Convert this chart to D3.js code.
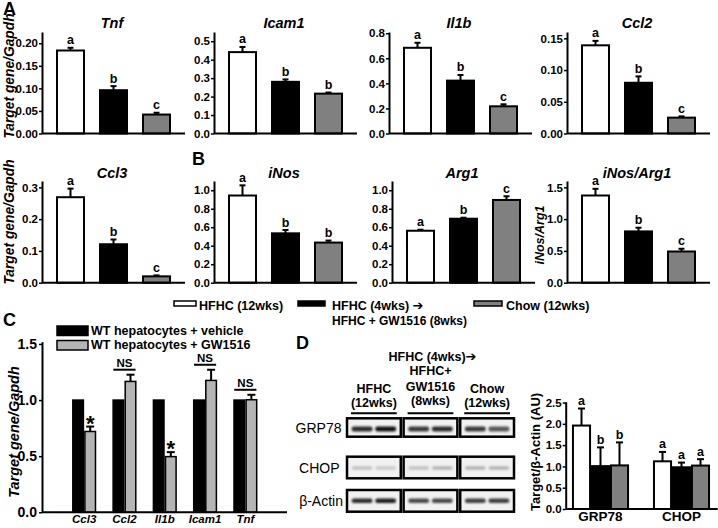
<!DOCTYPE html>
<html><head><meta charset="utf-8">
<script src="https://cdn.jsdelivr.net/npm/d3@7"></script>
<style>
body{margin:0;background:#fff;}
svg{display:block;}
</style></head><body>
<svg id="chart" width="718" height="528"></svg>
<script>
// ================= DATA =================
const groups = ["HFHC (12wks)", "HFHC (4wks) → HFHC + GW1516 (8wks)", "Chow (12wks)"];
const titlesAB = ["Tnf", "Icam1", "Il1b", "Ccl2", "Ccl3", "iNos", "Arg1", "iNos/Arg1"];
const tnfMean   = [0.184, 0.096, 0.042], tnfSem   = [0.006, 0.009, 0.004];
const icam1Mean = [0.441, 0.280, 0.216], icam1Sem = [0.028, 0.013, 0.006];
const il1bMean  = [0.684, 0.422, 0.217], il1bSem  = [0.040, 0.045, 0.016];
const ccl2Mean  = [0.139, 0.080, 0.025], ccl2Sem  = [0.007, 0.010, 0.002];
const ccl3Mean  = [0.269, 0.121, 0.020], ccl3Sem  = [0.027, 0.015, 0.003];
const inosMean  = [0.943, 0.534, 0.434], inosSem  = [0.110, 0.036, 0.022];
const arg1Mean  = [0.562, 0.692, 0.895], arg1Sem  = [0.011, 0.011, 0.040];
const ratioMean = [1.372, 0.807, 0.491], ratioSem = [0.105, 0.058, 0.043];
const lettersABC = ["a", "b", "c"], lettersABB = ["a", "b", "b"], lettersAAA = ["a", "a", "a"];
const tnfTicks   = [0, 0.05, 0.10, 0.15, 0.20];
const icam1Ticks = [0, 0.1, 0.2, 0.3, 0.4, 0.5];
const il1bTicks  = [0, 0.2, 0.4, 0.6, 0.8];
const ccl2Ticks  = [0, 0.05, 0.10, 0.15];
const ccl3Ticks  = [0, 0.1, 0.2, 0.3];
const inosTicks  = [0, 0.2, 0.4, 0.6, 0.8, 1.0];
const arg1Ticks  = [0, 0.2, 0.4, 0.6, 0.8, 1.0];
const ratioTicks = [0, 0.5, 1.0, 1.5];
const yMaxAB = [0.225, 0.55, 0.81, 0.16, 0.32, 1.1, 1.1, 1.6];

// Panel C
const cGenes = ["Ccl3", "Ccl2", "Il1b", "Icam1", "Tnf"];
const cSeries = ["WT hepatocytes + vehicle", "WT hepatocytes + GW1516"];
const vehicleVals = [1, 1, 1, 1, 1];
const gwVals = [0.720, 1.166, 0.496, 1.175, 1.003];
const gwSem  = [0.044, 0.060, 0.040, 0.095, 0.044];
const cSig   = ["*", "NS", "*", "NS", "NS"];
const cTicks = [0, 0.5, 1.0, 1.5];

// Panel D
const blotRows = ["GRP78", "CHOP", "β-Actin"];
const blotHeaders = [["HFHC", "(12wks)"], ["HFHC+", "GW1516", "(8wks)"], ["Chow", "(12wks)"]];
const blotTopHeader = "HFHC (4wks)";
const grp78Bands = [0.82, 0.92, 0.76, 0.82, 0.76, 0.64];
const chopBands  = [0.20, 0.16, 0.20, 0.26, 0.26, 0.26];
const actinBands = [0.82, 0.88, 0.70, 0.70, 0.74, 0.74];
const dProteins = ["GRP78", "CHOP"];
const grp78Mean = [1.96, 1.007, 1.024], grp78Sem = [0.40, 0.44, 0.54];
const chopMean  = [1.12, 0.98, 1.02],   chopSem  = [0.22, 0.11, 0.15];
const dTicks = [0, 0.5, 1.0, 1.5, 2.0, 2.5];

// ================= DRAW =================
const FONT = '"Liberation Sans", Arial, Helvetica, sans-serif';
const ARROW = "\u2794";
const svg = d3.select("#chart").attr("font-family", FONT);
const fills = ["#ffffff", "#000000", "#808080"];

const defs = svg.append("defs");
defs.append("filter").attr("id", "blur").attr("x", "-50%").attr("y", "-100%").attr("width", "200%").attr("height", "300%")
  .append("feGaussianBlur").attr("stdDeviation", 0.9);

function styleAxis(sel, fs) {
  sel.attr("font-family", null).attr("font-size", null);
  sel.select(".domain").attr("stroke", "#000").attr("stroke-width", 2);
  sel.selectAll(".tick line").attr("stroke", "#000").attr("stroke-width", 1.5);
  sel.selectAll(".tick text").attr("font-family", FONT).attr("font-size", fs)
    .attr("font-weight", "bold").attr("fill", "#000");
}

function txt(x, y, s, o = {}) {
  const t = svg.append("text").attr("x", x).attr("y", y).text(s)
    .attr("font-size", o.size || 12).attr("font-weight", o.weight || "bold")
    .attr("font-style", o.style || "normal").attr("text-anchor", o.anchor || "start").attr("fill", "#000");
  if (o.rotate) t.attr("transform", `rotate(-90,${x},${y})`);
  return t;
}
function addArrow(t, size) {
  t.append("tspan").attr("font-family", '"DejaVu Sans", sans-serif').attr("font-size", size)
    .attr("font-weight", "bold").text(ARROW);
  return t;
}

// ---- Panels A / B ----
const specs = [
  {mean: tnfMean, sem: tnfSem, letters: lettersABC, ticks: tnfTicks, fmt: ".2f"},
  {mean: icam1Mean, sem: icam1Sem, letters: lettersABB, ticks: icam1Ticks, fmt: ".1f"},
  {mean: il1bMean, sem: il1bSem, letters: lettersABC, ticks: il1bTicks, fmt: ".1f"},
  {mean: ccl2Mean, sem: ccl2Sem, letters: lettersABC, ticks: ccl2Ticks, fmt: ".2f"},
  {mean: ccl3Mean, sem: ccl3Sem, letters: lettersABC, ticks: ccl3Ticks, fmt: ".1f"},
  {mean: inosMean, sem: inosSem, letters: lettersABB, ticks: inosTicks, fmt: ".1f"},
  {mean: arg1Mean, sem: arg1Sem, letters: lettersABC, ticks: arg1Ticks, fmt: ".1f"},
  {mean: ratioMean, sem: ratioSem, letters: lettersABC, ticks: ratioTicks, fmt: ".1f"}
].map((s, i) => Object.assign(s, {title: titlesAB[i], yMax: yMaxAB[i]}));

const layoutAB = [
  {x: 42, base: 133.5, top: 32, ty: 27.5}, {x: 214, base: 133.5, top: 32, ty: 27.5},
  {x: 389, base: 133.5, top: 32, ty: 27.5}, {x: 567, base: 133.5, top: 32, ty: 27.5},
  {x: 42, base: 282.7, top: 181, ty: 178}, {x: 214, base: 282.7, top: 181, ty: 178},
  {x: 392, base: 282.7, top: 181, ty: 178}, {x: 567, base: 282.7, top: 181, ty: 178}
];

specs.forEach((s, i) => {
  const L = layoutAB[i];
  const g = svg.append("g").attr("transform", `translate(${L.x},0)`);
  const y = d3.scaleLinear().domain([0, s.yMax]).range([L.base, L.top]);
  const x = d3.scaleBand().domain(groups).range([7, 136]).paddingInner(0.372).paddingOuter(0.186);
  const bw = x.bandwidth();
  g.selectAll("rect.bar").data(groups).join("rect").attr("class", "bar")
    .attr("x", d => x(d)).attr("width", bw)
    .attr("y", (d, j) => y(s.mean[j])).attr("height", (d, j) => y(0) - y(s.mean[j]))
    .attr("fill", (d, j) => fills[j]).attr("stroke", "#000").attr("stroke-width", 2);
  g.selectAll("line.err").data(groups).join("line").attr("class", "err")
    .attr("x1", d => x(d) + bw / 2).attr("x2", d => x(d) + bw / 2)
    .attr("y1", (d, j) => y(s.mean[j])).attr("y2", (d, j) => y(s.mean[j] + s.sem[j]))
    .attr("stroke", "#000").attr("stroke-width", 2);
  g.selectAll("line.cap").data(groups).join("line").attr("class", "cap")
    .attr("x1", d => x(d) + bw / 2 - 3).attr("x2", d => x(d) + bw / 2 + 3)
    .attr("y1", (d, j) => y(s.mean[j] + s.sem[j])).attr("y2", (d, j) => y(s.mean[j] + s.sem[j]))
    .attr("stroke", "#000").attr("stroke-width", 2);
  g.selectAll("text.let").data(groups).join("text").attr("class", "let")
    .attr("x", d => x(d) + bw / 2).attr("y", (d, j) => y(s.mean[j] + s.sem[j]) - 3.5)
    .attr("text-anchor", "middle").attr("font-size", 12.5).attr("font-weight", "bold")
    .text((d, j) => s.letters[j]);
  const ax = g.append("g").call(d3.axisLeft(y).tickValues(s.ticks).tickFormat(d3.format(s.fmt))
    .tickSize(3).tickSizeOuter(0).tickPadding(1));
  styleAxis(ax, 11.5);
  g.append("line").attr("x1", 0).attr("x2", 143).attr("y1", y(0)).attr("y2", y(0))
    .attr("stroke", "#000").attr("stroke-width", 2);
  g.append("text").attr("x", 70).attr("y", L.ty).attr("text-anchor", "middle")
    .attr("font-size", 14.5).attr("font-weight", "bold").attr("font-style", "italic").text(s.title);
});

txt(13.5, 76, "Target gene/Gapdh", {size: 13.8, style: "italic", anchor: "middle", rotate: true});
txt(13.5, 222, "Target gene/Gapdh", {size: 13.8, style: "italic", anchor: "middle", rotate: true});
txt(544, 235, "iNos/Arg1", {size: 12.5, style: "italic", anchor: "middle", rotate: true});

// panel letters
txt(3, 15, "A", {size: 18});
txt(192, 165, "B", {size: 18});
txt(3, 326, "C", {size: 18});
txt(296, 349, "D", {size: 18});

// ---- main legend ----
const legX = [174, 298, 474], legW = [22, 27, 28];
groups.forEach((gname, i) => {
  svg.append("rect").attr("x", legX[i]).attr("y", 301).attr("width", legW[i]).attr("height", 5)
    .attr("fill", fills[i]).attr("stroke", "#000").attr("stroke-width", 1.5);
});
txt(199, 310, groups[0], {size: 12.5});
addArrow(txt(332, 310, "HFHC (4wks) ", {size: 12.5}), 13);
txt(332, 325, "HFHC + GW1516 (8wks)", {size: 12});
txt(506, 310, groups[2], {size: 12.5});

// ---- Panel C ----
{
  const g = svg.append("g").attr("transform", "translate(42,0)");
  const y = d3.scaleLinear().domain([0, 1.52]).range([512.3, 341.7]);
  const x0 = d3.scaleBand().domain(cGenes).range([22, 223.5]).paddingInner(0.4).paddingOuter(0.2);
  const x1 = d3.scaleBand().domain(cSeries).range([0, x0.bandwidth()]);
  const cFill = ["#000000", "#b4b4b4"];
  const rows = cGenes.map((gn, i) => ({gene: gn, vals: [vehicleVals[i], gwVals[i]], sem: gwSem[i], sig: cSig[i]}));
  const gg = g.selectAll("g.grp").data(rows).join("g").attr("transform", d => `translate(${x0(d.gene)},0)`);
  gg.selectAll("rect").data(d => d.vals.map((v, k) => ({v, k}))).join("rect")
    .attr("x", d => x1(cSeries[d.k]) + 0.75).attr("width", x1.bandwidth() - 1.5)
    .attr("y", d => y(d.v)).attr("height", d => y(0) - y(d.v))
    .attr("fill", d => cFill[d.k]).attr("stroke", "#000").attr("stroke-width", 1.5);
  const cx = x1(cSeries[1]) + x1.bandwidth() / 2;
  gg.append("line").attr("x1", cx).attr("x2", cx).attr("y1", d => y(d.vals[1])).attr("y2", d => y(d.vals[1] + d.sem))
    .attr("stroke", "#000").attr("stroke-width", 2);
  gg.append("line").attr("x1", cx - 4).attr("x2", cx + 4).attr("y1", d => y(d.vals[1] + d.sem)).attr("y2", d => y(d.vals[1] + d.sem))
    .attr("stroke", "#000").attr("stroke-width", 2);
  // significance
  gg.filter(d => d.sig === "*").append("text").attr("x", cx).attr("y", d => y(d.vals[1] + d.sem) + 4)
    .attr("text-anchor", "middle").attr("font-size", 22).attr("font-weight", "bold").text("*");
  const ns = gg.filter(d => d.sig === "NS");
  ns.append("line").attr("x1", 1).attr("x2", x0.bandwidth() - 1)
    .attr("y1", d => y(d.vals[1] + d.sem) - 5).attr("y2", d => y(d.vals[1] + d.sem) - 5)
    .attr("stroke", "#000").attr("stroke-width", 2);
  ns.append("text").attr("x", x0.bandwidth() / 2).attr("y", d => y(d.vals[1] + d.sem) - 7.5)
    .attr("text-anchor", "middle").attr("font-size", 11.5).attr("font-weight", "bold").text("NS");
  const ax = g.append("g").call(d3.axisLeft(y).tickValues(cTicks).tickFormat(d3.format(".1f"))
    .tickSize(3).tickSizeOuter(0).tickPadding(2));
  styleAxis(ax, 14);
  g.append("line").attr("x1", 0).attr("x2", 245).attr("y1", y(0)).attr("y2", y(0))
    .attr("stroke", "#000").attr("stroke-width", 2);
  g.selectAll("text.cat").data(cGenes).join("text").attr("class", "cat")
    .attr("x", d => x0(d) + x0.bandwidth() / 2).attr("y", 522.5).attr("text-anchor", "middle")
    .attr("font-size", 11.5).attr("font-weight", "bold").attr("font-style", "italic").text(d => d);
  // legend
  cSeries.forEach((s, k) => {
    svg.append("rect").attr("x", 57).attr("y", 326 + k * 14.5).attr("width", 31).attr("height", 9.5)
      .attr("fill", cFill[k]).attr("stroke", "#000").attr("stroke-width", 1.5);
    txt(91, 335 + k * 14.2, s, {size: 12.5});
  });
  txt(18.5, 432, "Target gene/Gapdh", {size: 14.5, style: "italic", anchor: "middle", rotate: true});
}

// ---- Panel D blot ----
{
  const bx = d3.scaleBand().domain([0, 1, 2]).range([347, 514]).paddingInner(0.05);
  const bw = bx.bandwidth();
  const rowPos = [{y: 418.3, h: 18.4, bh: 5, dy: 1.5}, {y: 456.7, h: 21.6, bh: 3.5, dy: 0.5}, {y: 490, h: 21.7, bh: 4.5, dy: 0}];
  const bandSets = [grp78Bands, chopBands, actinBands];
  const lane = d3.scaleBand().domain([0, 1]).range([0, bw]).paddingInner(0.12).paddingOuter(0.2);
  blotRows.forEach((r, ri) => {
    const R = rowPos[ri];
    [0, 1, 2].forEach(gi => {
      svg.append("rect").attr("x", bx(gi)).attr("y", R.y).attr("width", bw).attr("height", R.h)
        .attr("fill", "#f1f1f1").attr("stroke", "#000").attr("stroke-width", 2.5);
      [0, 1].forEach(li => {
        const v = bandSets[ri][gi * 2 + li];
        svg.append("rect").attr("x", bx(gi) + lane(li)).attr("width", lane.bandwidth())
          .attr("y", R.y + R.h / 2 + R.dy - R.bh / 2).attr("height", R.bh).attr("rx", 2)
          .attr("fill", "#000").attr("fill-opacity", v).attr("filter", "url(#blur)");
      });
    });
    txt(ri === 2 ? 343 : (ri === 1 ? 339.5 : 341.5), R.y + R.h / 2 + 5, r, {size: 14, weight: "normal", anchor: "end"});
  });
  // headers
  const cxs = [0, 1, 2].map(i => bx(i) + bw / 2);
  addArrow(txt(cxs[1] + 2, 361, blotTopHeader, {size: 12.5, anchor: "middle"}), 13);
  txt(cxs[0], 392.5, blotHeaders[0][0], {size: 12.5, anchor: "middle"});
  txt(cxs[0], 407, blotHeaders[0][1], {size: 12.5, anchor: "middle"});
  txt(cxs[1], 375, blotHeaders[1][0], {size: 12.5, anchor: "middle"});
  txt(cxs[1], 390.5, blotHeaders[1][1], {size: 12.5, anchor: "middle"});
  txt(cxs[1], 405, blotHeaders[1][2], {size: 12.5, anchor: "middle"});
  txt(cxs[2], 392.5, blotHeaders[2][0], {size: 12.5, anchor: "middle"});
  txt(cxs[2], 407, blotHeaders[2][1], {size: 12.5, anchor: "middle"});
  [0, 1, 2].forEach(i => svg.append("line").attr("x1", bx(i) + 4).attr("x2", bx(i) + bw - 4)
    .attr("y1", 413.3).attr("y2", 413.3).attr("stroke", "#000").attr("stroke-width", 2));
}

// ---- Panel D bars ----
{
  const g = svg.append("g").attr("transform", "translate(565.7,0)");
  const y = d3.scaleLinear().domain([0, 2.52]).range([509, 401.7]);
  const x0 = d3.scaleBand().domain(dProteins).range([-5.7, 156.3]).paddingInner(0.32).paddingOuter(0.16);
  const x1 = d3.scaleBand().domain(groups).range([0, x0.bandwidth()]).paddingInner(0.1);
  const data = [{p: "GRP78", mean: grp78Mean, sem: grp78Sem, letters: lettersABB},
                {p: "CHOP", mean: chopMean, sem: chopSem, letters: lettersAAA}];
  const gg = g.selectAll("g.grp").data(data).join("g").attr("transform", d => `translate(${x0(d.p)},0)`);
  const items = d => groups.map((gn, j) => ({gn, j, m: d.mean[j], s: d.sem[j], l: d.letters[j]}));
  const bwid = x1.bandwidth();
  gg.selectAll("rect").data(items).join("rect")
    .attr("x", d => x1(d.gn)).attr("width", bwid).attr("y", d => y(d.m)).attr("height", d => y(0) - y(d.m))
    .attr("fill", d => fills[d.j]).attr("stroke", "#000").attr("stroke-width", 2);
  gg.selectAll("line.err").data(items).join("line").attr("class", "err")
    .attr("x1", d => x1(d.gn) + bwid / 2).attr("x2", d => x1(d.gn) + bwid / 2)
    .attr("y1", d => y(d.m)).attr("y2", d => y(d.m + d.s)).attr("stroke", "#000").attr("stroke-width", 2);
  gg.selectAll("line.cap").data(items).join("line").attr("class", "cap")
    .attr("x1", d => x1(d.gn) + bwid / 2 - 3.5).attr("x2", d => x1(d.gn) + bwid / 2 + 3.5)
    .attr("y1", d => y(d.m + d.s)).attr("y2", d => y(d.m + d.s)).attr("stroke", "#000").attr("stroke-width", 2);
  gg.selectAll("text.let").data(items).join("text").attr("class", "let")
    .attr("x", d => x1(d.gn) + bwid / 2).attr("y", d => y(d.m + d.s) - 3.5).attr("text-anchor", "middle")
    .attr("font-size", 12.5).attr("font-weight", "bold").text(d => d.l);
  const ax = g.append("g").call(d3.axisLeft(y).tickValues(dTicks).tickFormat(d3.format(".1f"))
    .tickSize(3).tickSizeOuter(0).tickPadding(1));
  styleAxis(ax, 11.5);
  g.append("line").attr("x1", 0).attr("x2", 152).attr("y1", y(0)).attr("y2", y(0))
    .attr("stroke", "#000").attr("stroke-width", 2);
  g.selectAll("text.cat").data(dProteins).join("text").attr("class", "cat")
    .attr("x", d => x0(d) + x0.bandwidth() / 2).attr("y", 521).attr("text-anchor", "middle")
    .attr("font-size", 13.5).attr("font-weight", "bold").text(d => d);
  txt(540, 452, "Target/β-Actin (AU)", {size: 13, anchor: "middle", rotate: true});
}
</script>
</body></html>
